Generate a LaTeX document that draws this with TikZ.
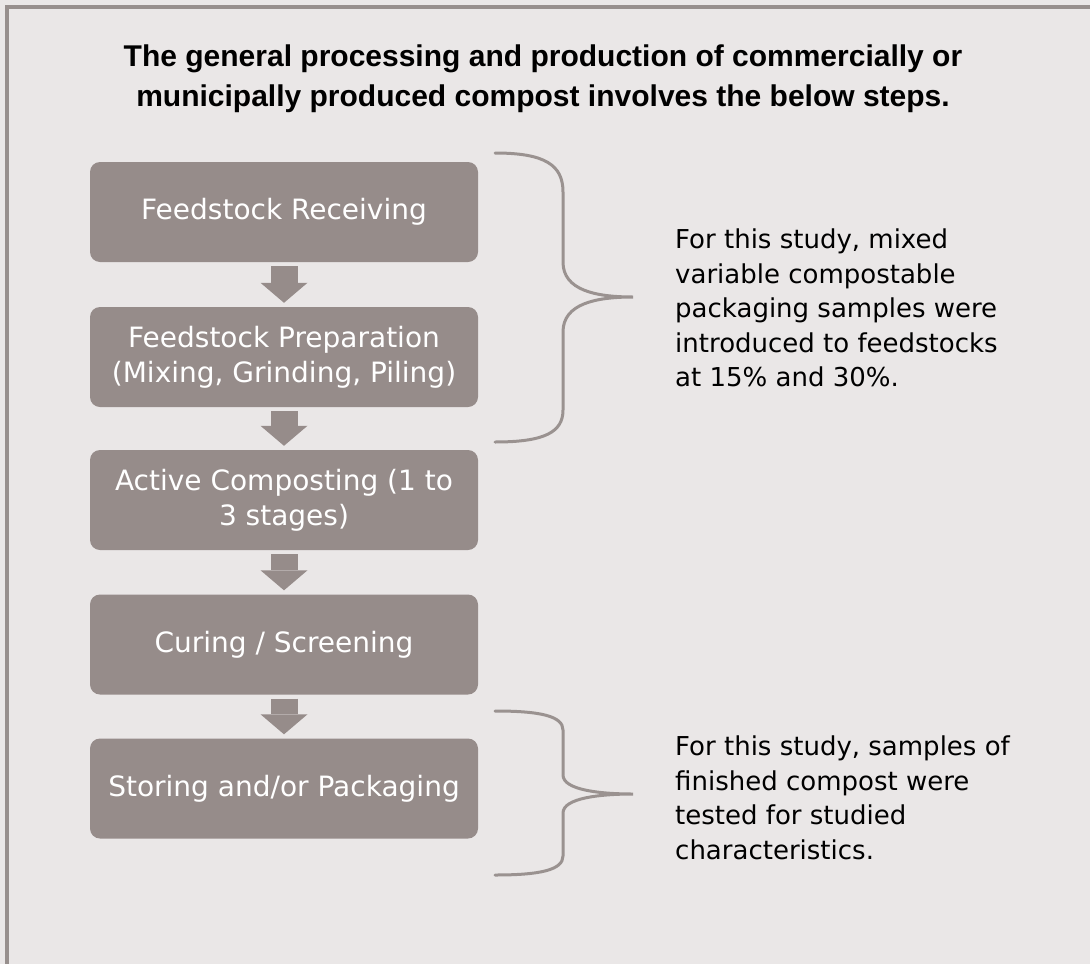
\documentclass[tikz,border=0pt]{standalone}
\usepackage{fontspec}
\setmainfont{DejaVu Sans}
\newfontfamily\titlefont{Liberation Sans}
\usetikzlibrary{arrows.meta,calc}
\definecolor{bgc}{HTML}{EAE7E7}
\definecolor{boxc}{HTML}{968C8A}
\definecolor{framec}{HTML}{978F8D}
\definecolor{bracec}{HTML}{9A9290}
\begin{document}
\begin{tikzpicture}[x=1pt,y=-1pt,
  stepbox/.style={fill=boxc, rounded corners=10pt, minimum width=388pt,
    minimum height=100pt, inner sep=0pt, text=white, align=center,
    font=\fontsize{28}{35}\selectfont},
  flowarrow/.style={draw=boxc, line width=27pt,
    -{Triangle[width=47pt,length=20pt,line width=0pt]}},
  bracestyle/.style={draw=bracec, line width=3pt, line cap=round},
  notetext/.style={anchor=north west, inner sep=0pt, align=left, text=black,
    font=\fontsize{26}{34.5}\selectfont},
  titletext/.style={anchor=north, inner sep=0pt, align=center, text=black,
    font=\titlefont\bfseries\fontsize{30}{40}\selectfont}]
\useasboundingbox (0,0) rectangle (1090,964);
\fill[bgc] (0,0) rectangle (1090,964);
\draw[framec, line width=3.8pt] (6.7,964) -- (6.7,7.1) -- (1090,7.1);

\node[titletext] (title) at (543,45) {The general processing and production of commercially or\\municipally produced compost involves the below steps.};

\node[stepbox] (b1) at (284,212) {Feedstock Receiving};
\node[stepbox] (b2) at (284,357) {Feedstock Preparation\\(Mixing, Grinding, Piling)};
\node[stepbox] (b3) at (284,500) {Active Composting (1 to\\3 stages)};
\node[stepbox] (b4) at (284,644.5) {Curing / Screening};
\node[stepbox] (b5) at (284,788.5) {Storing and/or Packaging};

\draw[flowarrow] ([yshift=-4pt]b1.south) -- ([yshift=4pt]b2.north);
\draw[flowarrow] ([yshift=-4pt]b2.south) -- ([yshift=4pt]b3.north);
\draw[flowarrow] ([yshift=-4pt]b3.south) -- ([yshift=4pt]b4.north);
\draw[flowarrow] ([yshift=-4pt]b4.south) -- ([yshift=4pt]b5.north);

\draw[bracestyle] (495,153) .. controls (545,153) and (563,165) .. (563,192)
  -- (563,262) .. controls (563,290) and (595,297) .. (633,297)
  .. controls (595,297) and (563,304) .. (563,332)
  -- (563,410) .. controls (563,432) and (545,442) .. (495,442);
\draw[bracestyle] (495,711) .. controls (540,711) and (563,716) .. (563,730)
  -- (563,775) .. controls (563,790) and (600,794) .. (633,794)
  .. controls (600,794) and (563,798) .. (563,813)
  -- (563,856) .. controls (563,870) and (540,875) .. (495,875);

\node[notetext] (n1) at (675,229) {For this study, mixed\\variable compostable\\packaging samples were\\introduced to feedstocks\\at 15\% and 30\%.};
\node[notetext] (n2) at (675,736) {For this study, samples of\\finished compost were\\tested for studied\\characteristics.};
\end{tikzpicture}
\end{document}
